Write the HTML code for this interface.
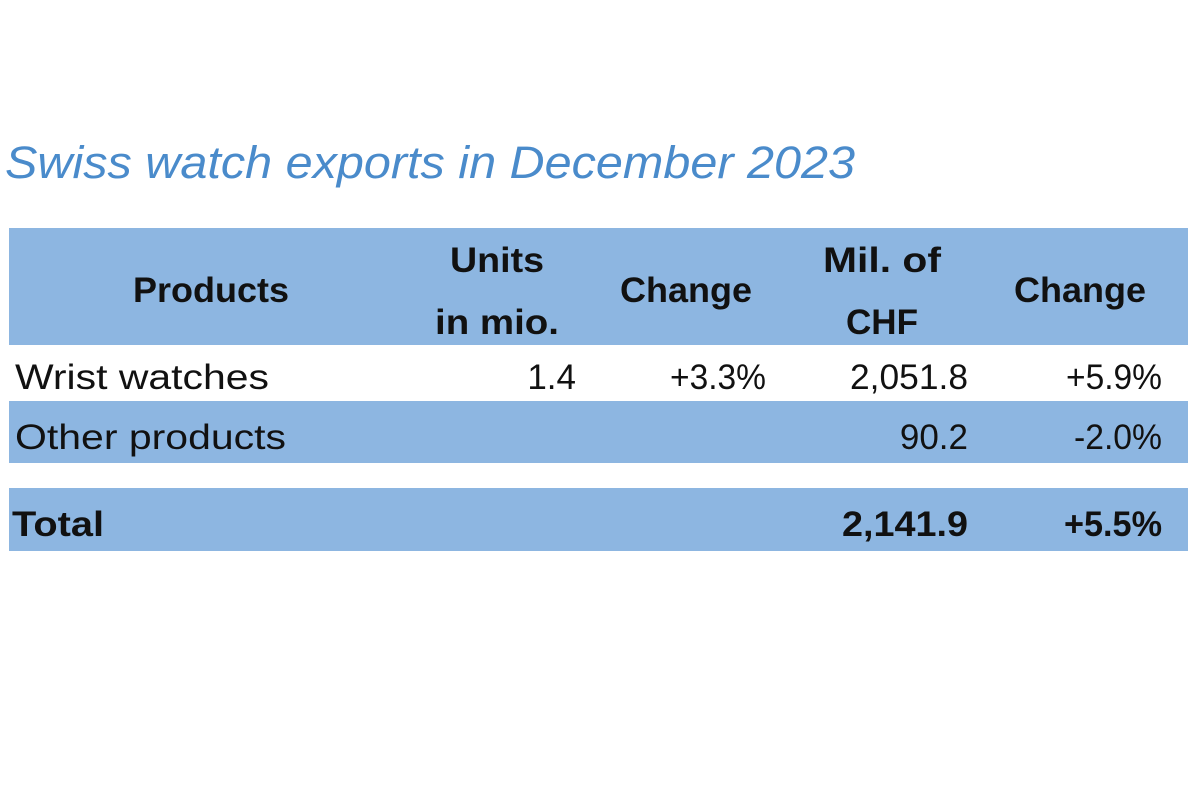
<!DOCTYPE html>
<html><head><style>body{margin:0;background:#fff}</style></head><body>
<svg width="1200" height="794" xmlns="http://www.w3.org/2000/svg" style="display:block">
<rect width="1200" height="794" fill="#fff"/>
<text x="5" y="178" font-family="Liberation Sans, sans-serif" font-style="italic" font-size="45" fill="#4a8bcb" textLength="850" lengthAdjust="spacingAndGlyphs">Swiss watch exports in December 2023</text>
<g fill="#8db6e1">
<rect x="9" y="228" width="1179" height="117"/>
<rect x="9" y="401" width="1179" height="62"/>
<rect x="9" y="488" width="1179" height="63"/>
</g>
<g font-family="Liberation Sans, sans-serif" font-weight="bold" font-size="35" fill="#111" text-anchor="middle">
<text x="211" y="302" textLength="156" lengthAdjust="spacingAndGlyphs">Products</text>
<text x="497" y="272" textLength="94" lengthAdjust="spacingAndGlyphs">Units</text>
<text x="497" y="334" textLength="124" lengthAdjust="spacingAndGlyphs">in mio.</text>
<text x="686" y="302" textLength="132" lengthAdjust="spacingAndGlyphs">Change</text>
<text x="882" y="272" textLength="118" lengthAdjust="spacingAndGlyphs">Mil. of</text>
<text x="882" y="334" textLength="72" lengthAdjust="spacingAndGlyphs">CHF</text>
<text x="1080" y="302" textLength="132" lengthAdjust="spacingAndGlyphs">Change</text>
</g>
<g font-family="Liberation Sans, sans-serif" font-size="35" fill="#111">
<text x="15" y="389" textLength="254" lengthAdjust="spacingAndGlyphs">Wrist watches</text>
<text x="15" y="449" textLength="271" lengthAdjust="spacingAndGlyphs">Other products</text>
<g text-anchor="end">
<text x="576" y="389">1.4</text>
<text x="766" y="389" textLength="96" lengthAdjust="spacingAndGlyphs">+3.3%</text>
<text x="968" y="389" textLength="118" lengthAdjust="spacingAndGlyphs">2,051.8</text>
<text x="1162" y="389" textLength="96" lengthAdjust="spacingAndGlyphs">+5.9%</text>
<text x="968" y="449">90.2</text>
<text x="1162" y="449" textLength="88" lengthAdjust="spacingAndGlyphs">-2.0%</text>
</g>
<g font-weight="bold">
<text x="12" y="536" textLength="92" lengthAdjust="spacingAndGlyphs">Total</text>
<text x="968" y="536" text-anchor="end" textLength="126" lengthAdjust="spacingAndGlyphs">2,141.9</text>
<text x="1162" y="536" text-anchor="end" textLength="98" lengthAdjust="spacingAndGlyphs">+5.5%</text>
</g>
</g>
</svg>
</body></html>
